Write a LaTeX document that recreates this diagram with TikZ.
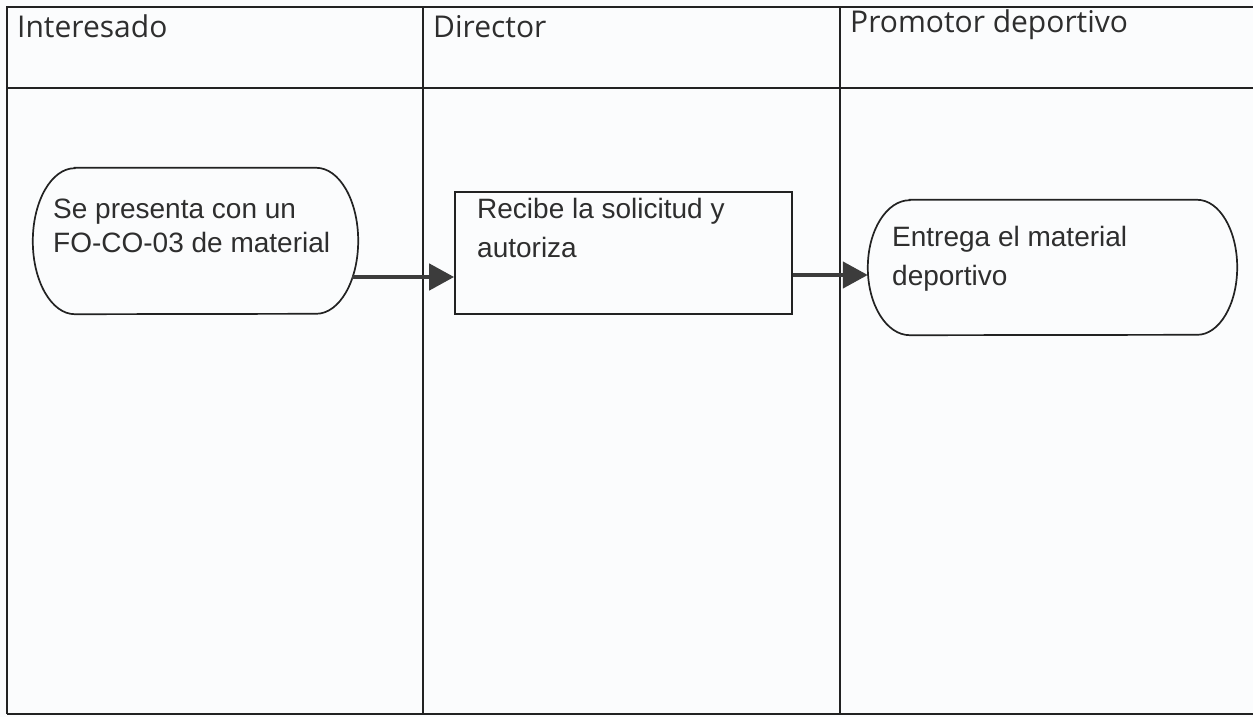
\documentclass[tikz,border=0pt]{standalone}
\usepackage{fontspec}
\usetikzlibrary{arrows.meta,calc}
\newfontfamily\hdfont{Open Sans}
\newfontfamily\bdfont{Liberation Sans}
\definecolor{paper}{HTML}{FBFCFD}
\definecolor{ink}{HTML}{222222}
\definecolor{txtgray}{HTML}{2E2E2E}
\definecolor{arrgray}{HTML}{3C3C3C}
\tikzset{
  lane/.style={line width=1.4pt, draw=ink},
  shapeline/.style={line width=1.7pt, draw=ink},
  termbox/.style={draw=none, inner sep=0pt},
  procbox/.style={shapeline, rectangle, inner sep=0pt},
  body/.style={font=\bdfont\fontsize{28}{34}\selectfont, text=txtgray, align=left, inner sep=0pt, anchor=base west},
  bodywide/.style={body, font=\bdfont\fontsize{28}{39}\selectfont},
  head/.style={font=\hdfont\fontsize{30}{35}\selectfont, text=txtgray, inner sep=0pt, anchor=base west},
  flow/.style={line width=4.5pt, draw=arrgray, -{Triangle[length=25pt,width=26pt,fill=arrgray]}}
}
\begin{document}
\begin{tikzpicture}[x=1pt,y=-1pt]
\useasboundingbox[fill=paper] (0,0) rectangle (1253,717);
% table
\coordinate (tl) at (7,7);
\coordinate (tr) at (1253,7);
\coordinate (hl) at (7,88);
\coordinate (hr) at (1253,88);
\coordinate (bl) at (7,714);
\coordinate (br) at (1253,714);
\coordinate (c1t) at (423,7);
\coordinate (c1b) at (423,714);
\coordinate (c2t) at (840,7);
\coordinate (c2b) at (840,714);
\draw[lane] (tr) -- (tl) -- (bl);
\draw[lane] (hl) -- (hr);
\draw[lane] (c1t) -- (c1b);
\draw[lane] (c2t) -- (c2b);
\draw[lane, line width=2.4pt] (bl) -- (br);
% headers
\node[head] (h1) at (17,38) {Interesado};
\node[head] (h2) at (433,38) {Director};
\node[head] (h3) at (850,33) {Promotor deportivo};
% node 1
\node[termbox, minimum width=325pt, minimum height=146pt] (n1) at (195.5,241) {};
\draw[shapeline] ([xshift=42pt]n1.north west) -- ([xshift=-42pt]n1.north east)
  arc[start angle=90, end angle=-90, x radius=42pt, y radius=73pt]
  -- ([xshift=42pt]n1.south west)
  arc[start angle=270, end angle=90, x radius=42pt, y radius=73pt] -- cycle;
\node[body] (t1) at (53,252) {Se presenta con un\\FO-CO-03 de material};
% node 2
\node[procbox, minimum width=337pt, minimum height=122pt] (n2) at (623.5,253) {};
\node[bodywide] (t2) at (477,257) {Recibe la solicitud y\\autoriza};
% node 3
\node[termbox, minimum width=369pt, minimum height=135pt] (n3) at (1052.5,267.5) {};
\draw[shapeline] ([xshift=42pt]n3.north west) -- ([xshift=-40pt]n3.north east)
  arc[start angle=90, end angle=-90, x radius=40pt, y radius=67.5pt]
  -- ([xshift=42pt]n3.south west)
  arc[start angle=270, end angle=90, x radius=42pt, y radius=67.5pt] -- cycle;
\node[bodywide] (t3) at (892,285) {Entrega el material\\deportivo};
% connectors
\coordinate (y1) at (0,277);
\coordinate (y2) at (0,275);
\draw[flow] ([xshift=-6pt]n1.east |- y1) -- (n2.west |- y1);
\draw[flow] (n2.east |- y2) -- (n3.west |- y2);
\end{tikzpicture}
\end{document}
